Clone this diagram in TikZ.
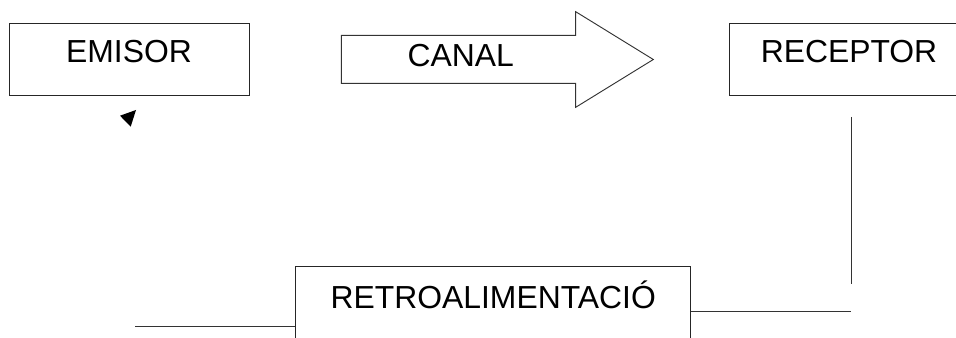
\documentclass[tikz,border=0pt]{standalone}
\usepackage{fontspec}
\setmainfont{Liberation Sans}
\usepackage{tikz}
\usetikzlibrary{shapes,arrows}
\tikzset{
	caixa/.style={draw=black!85, line width=0.7pt, fill=white, inner sep=0pt,
		minimum width=180pt, text height=30pt, text depth=24pt},
	linia/.style={draw=black!80, line width=0.7pt},
	lletra/.style={font=\fontsize{23.9}{28}\selectfont}
}

\begin{document}
\begin{tikzpicture}[x=0.75pt,y=-0.75pt,every node/.style={lletra}]
	\useasboundingbox (0,0) rectangle (956,338);
	\clip (0,0) rectangle (956,338);

	% Emisor
	\node [caixa] (emisor) at (129,59) {EMISOR};
	\fill [black] (120,115.7) -- (136,110) -- (130.7,126.7) -- cycle;

	% Canal
	\draw [linia, fill=white] (341.3,35.3) -- (575.7,35.3) -- (575.7,11.7) -- (653.3,59.5)
		-- (575.7,107.3) -- (575.7,83.3) -- (341.3,83.3) -- cycle;
	\node [anchor=base] (canal) at (460.7,67) {CANAL};

	% Receptor
	\node [caixa] (receptor) at (849,59) {RECEPTOR};
	\coordinate (recA) at (851,117);
	\coordinate (recB) at (851,284);
	\draw [linia] (recA) -- (recB);

	% Retroalimentacio
	\node [caixa, minimum width=296.25pt, text height=31pt, text depth=23pt] (retro) at (493.2,302.7) {RETROALIMENTACIÓ};
	\coordinate (retroD) at (851,311.7);
	\coordinate (retroE) at (135.3,326);
		\draw [linia] (retro.east |- retroD) -- (retroD);
		\draw [linia] (retroE) -- (retro.west |- retroE);

\end{tikzpicture}
\end{document}
